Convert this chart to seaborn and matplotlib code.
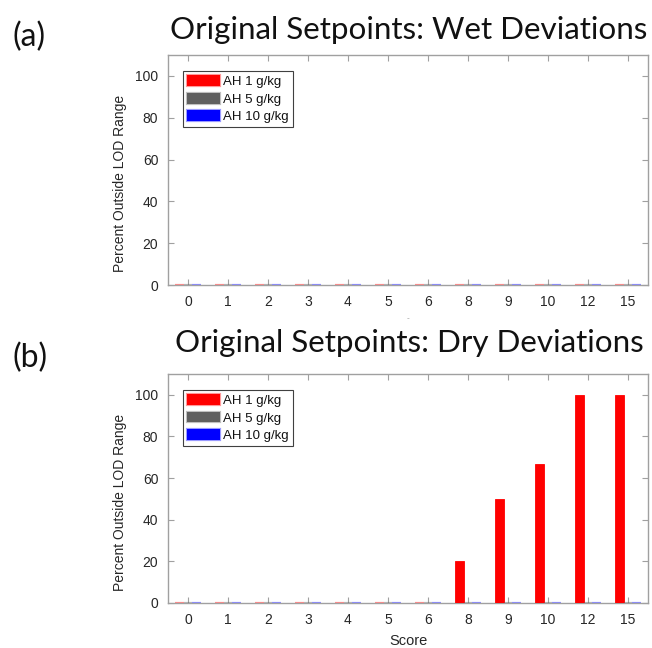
import matplotlib
matplotlib.use("Agg")
import matplotlib.pyplot as plt
import seaborn as sns
import pandas as pd

# Score categories on the x axis
scores = ["0", "1", "2", "3", "4", "5", "6", "8", "9", "10", "12", "15"]
humidity_levels = ["AH 1 g/kg", "AH 5 g/kg", "AH 10 g/kg"]

# Percent of cases outside the LOD range, wet deviations
wet_ah1 = [0, 0, 0, 0, 0, 0, 0, 0, 0, 0, 0, 0]
wet_ah5 = [0, 0, 0, 0, 0, 0, 0, 0, 0, 0, 0, 0]
wet_ah10 = [0, 0, 0, 0, 0, 0, 0, 0, 0, 0, 0, 0]

# Percent of cases outside the LOD range, dry deviations
dry_ah1 = [0, 0, 0, 0, 0, 0, 0, 20, 50, 66.7, 100, 100]
dry_ah5 = [0, 0, 0, 0, 0, 0, 0, 0, 0, 0, 0, 0]
dry_ah10 = [0, 0, 0, 0, 0, 0, 0, 0, 0, 0, 0, 0]

colors = ["#ff0000", "#5f5f5f", "#0000ff"]


def long_table(series):
    rows = []
    for level, values in zip(humidity_levels, series):
        for s, v in zip(scores, values):
            rows.append({"Score": s, "Percent": v, "AH": level})
    return pd.DataFrame(rows)


sns.set_theme(style="white")
plt.rcParams["font.family"] = ["Liberation Sans", "DejaVu Sans"]

fig = plt.figure(figsize=(6.52, 6.48), dpi=100)
ax_top = fig.add_axes([168 / 652, 1 - 285 / 648, 480 / 652, 230 / 648])
ax_bot = fig.add_axes([168 / 652, 1 - 603 / 648, 480 / 652, 229 / 648])

spine_col = "#a0a0a0"
text_col = "#262626"


def draw_panel(ax, df, xlabel, xlabel_size, xlabel_col):
    sns.barplot(data=df, x="Score", y="Percent", hue="AH", order=scores,
                hue_order=humidity_levels, palette=colors, width=0.66,
                saturation=1, errorbar=None, ax=ax)
    for bar in ax.patches:
        fc = bar.get_facecolor()
        bar.set_zorder(3)
        if bar.get_height() == 0:
            bar.set_edgecolor((fc[0], fc[1], fc[2], 0.4))
            bar.set_linewidth(1.6)
        else:
            bar.set_edgecolor(fc)
            bar.set_linewidth(0.6)
    ax.set_xlim(-0.5, len(scores) - 0.5)
    ax.set_ylim(0, 110)
    ax.set_yticks([0, 20, 40, 60, 80, 100])
    ax.set_ylabel("Percent Outside LOD Range", fontsize=10, color=text_col,
                  labelpad=6, y=0.44)
    ax.set_xlabel(xlabel, fontsize=xlabel_size, color=xlabel_col, labelpad=5)
    for sp in ax.spines.values():
        sp.set_visible(True)
        sp.set_color(spine_col)
        sp.set_linewidth(1.0)
    ax.tick_params(direction="in", length=4, width=0.8, color=spine_col,
                   top=True, right=True, bottom=True, left=True,
                   labelsize=10, labelcolor=text_col, pad=7)
    handles, labels = ax.get_legend_handles_labels()
    leg = ax.legend(handles, labels, loc="upper left",
                    bbox_to_anchor=(15 / 480, 1 - 16 / 230), borderaxespad=0,
                    fontsize=9.5, handlelength=2.5, handleheight=0.9,
                    handletextpad=0.25, labelspacing=0.35, borderpad=0.3,
                    fancybox=False, framealpha=1, edgecolor="#404040")
    leg.get_frame().set_linewidth(0.8)
    for t in leg.get_texts():
        t.set_color("#111111")


draw_panel(ax_top, long_table([wet_ah1, wet_ah5, wet_ah10]), "-", 6, "#999999")
draw_panel(ax_bot, long_table([dry_ah1, dry_ah5, dry_ah10]), "Score", 10.5, text_col)

title_font = ["Lato", "DejaVu Sans"]
fig.text(409 / 652, 1 - 30 / 648, "Original Setpoints: Wet Deviations",
         ha="center", va="center", fontsize=22.6, family=title_font, color="#111111")
fig.text(409 / 652, 1 - 343 / 648, "Original Setpoints: Dry Deviations",
         ha="center", va="center", fontsize=22.6, family=title_font, color="#111111")
fig.text(12 / 652, 1 - 37 / 648, "(a)", ha="left", va="center",
         fontsize=23, family=title_font, color="#111111")
fig.text(12 / 652, 1 - 358 / 648, "(b)", ha="left", va="center",
         fontsize=23, family=title_font, color="#111111")

fig.savefig("out.png", dpi=100)
